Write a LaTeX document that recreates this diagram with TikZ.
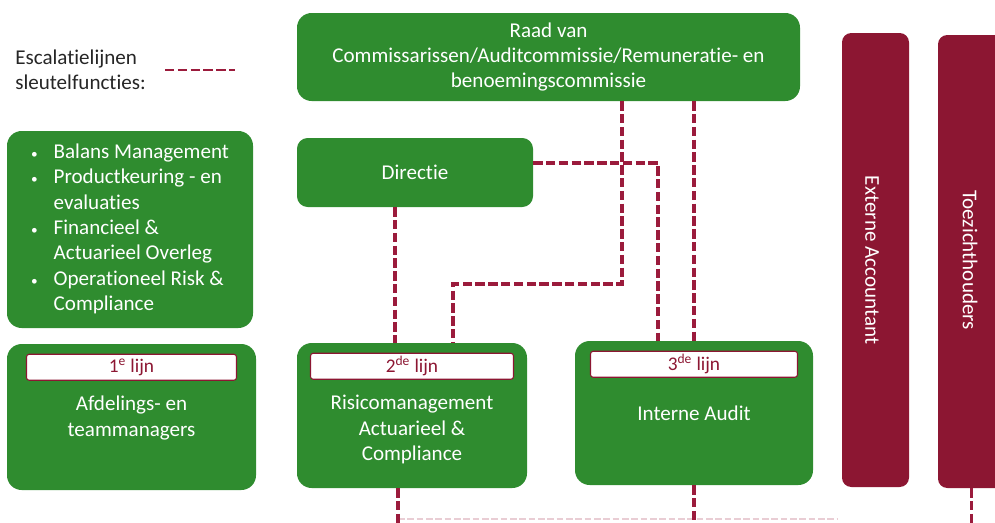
\documentclass[tikz,border=0pt]{standalone}
\usepackage{fontspec}
\setmainfont{Carlito}[Ligatures={NoCommon}]
\usetikzlibrary{positioning}
\definecolor{groen}{RGB}{47,140,47}
\definecolor{bordeaux}{RGB}{140,22,50}
\definecolor{streep}{RGB}{155,27,60}
\tikzset{
  blok/.style={fill=groen, draw=none, rounded corners=11pt, text=white, align=center, inner sep=0pt, font=\fontsize{15.8}{19}\selectfont},
  balk/.style={fill=bordeaux, draw=none, rounded corners=7pt, inner sep=0pt},
  balktekst/.style={rotate=-90, text=white, font=\fontsize{15.8}{19}\selectfont},
  lijnlabel/.style={fill=white, draw=bordeaux, line width=0.8pt, rounded corners=2pt, text=bordeaux, minimum height=19.5pt, inner sep=0pt, font=\fontsize{14.5}{16}\selectfont},
  escalatie/.style={draw=streep, line width=2.3pt, dash pattern=on 7pt off 2.6pt}
}
\newcommand{\bol}{{\fontsize{10}{10}\selectfont\textbullet}}
\begin{document}
\begin{tikzpicture}[x=0.75pt, y=-0.75pt]
      \useasboundingbox (0,0) rectangle (995,522);
      \clip (0,0) rectangle (995,522);
      % legenda
      \node[anchor=west, align=left, inner sep=0pt, text=black!85, font=\fontsize{15.8}{19}\selectfont] (legenda) at (15,70) {Escalatielijnen\\sleutelfuncties:};
      \coordinate (l1) at (165,70);
      \coordinate (l2) at (235,70);
      \draw[escalatie, line width=1.8pt] (l1) -- (l2);
      % blokken
      \node[blok, minimum width=377.25pt, minimum height=66pt] (raad) at (548.5,57) {Raad van\\Commissarissen/Auditcommissie/Remuneratie- en\\benoemingscommissie};
      \node[blok, rounded corners=8pt, minimum width=177pt, minimum height=51.75pt] (directie) at (415,172.5) {Directie};
      \node[blok, minimum width=184.5pt, minimum height=147.75pt] (lijst) at (130,229.5) {\begin{tabular}{@{}l@{\hspace{12pt}}l@{}}
        \bol & Balans Management\\
        \bol & Productkeuring - en\\
             & evaluaties\\
        \bol & Financieel \&\\
             & Actuarieel Overleg\\
        \bol & Operationeel Risk \&\\
             & Compliance
      \end{tabular}};
      \node[blok, minimum width=186.75pt, minimum height=109.5pt] (eerste) at (131.5,417) {};
      \node[blok, minimum width=172.5pt, minimum height=108.75pt] (tweede) at (412,415.5) {};
      \node[blok, minimum width=178.5pt, minimum height=108pt] (derde) at (694,413) {};
      \node[blok] (eerstetekst) at (131.5,418) {Afdelings- en\\teammanagers};
      \node[blok] (tweedetekst) at (412,429.5) {Risicomanagement\\Actuarieel \&\\Compliance};
      \node[blok] (derdetekst) at (694,413) {Interne Audit};
      \node[lijnlabel, minimum width=157.5pt, below=7.5pt of eerste.north] (lijn1) {1\textsuperscript{e} lijn};
      \node[lijnlabel, minimum width=152.25pt, below=7.5pt of tweede.north] (lijn2) {2\textsuperscript{de} lijn};
      \node[lijnlabel, minimum width=155.25pt, below=7.5pt of derde.north] (lijn3) {3\textsuperscript{de} lijn};
      % externe partijen
      \node[balk, minimum width=50.25pt, minimum height=340.5pt] (accountant) at (875.5,260) {};
      \node[balk, minimum width=50.25pt, minimum height=339.75pt] (toezicht) at (971.5,261.5) {};
      \node[balktekst] (accounttekst) at (872,260) {Externe Accountant};
      \node[balktekst] (toezichttekst) at (970,260) {Toezichthouders};
      % escalatielijnen
      \coordinate (k1) at (622,284);
      \coordinate (k2) at (453,284);
      \coordinate (k3) at (658,163);
      \coordinate (k4) at (395,0);
      \coordinate (k5) at (398,519);
      \coordinate (k6) at (837,519);
      \draw[escalatie] (k1 |- raad.south) -- (k1) -- (k2) -- (k2 |- tweede.north);
      \draw[escalatie] (raad.south -| derde.north) -- (derde.north);
      \draw[escalatie] (directie.east |- k3) -- (k3) -- (k3 |- derde.north);
      \draw[escalatie] (directie.south -| k4) -- (tweede.north -| k4);
      \draw[draw=streep!22, line width=1.2pt, dash pattern=on 5pt off 2pt] (k5) -- (k6);
      \draw[escalatie] (tweede.south -| k5) -- ++(0,40);
      \draw[escalatie] (derde.south) -- ++(0,40);
      \draw[escalatie] (toezicht.south) -- ++(0,40);
    \end{tikzpicture}
\end{document}
